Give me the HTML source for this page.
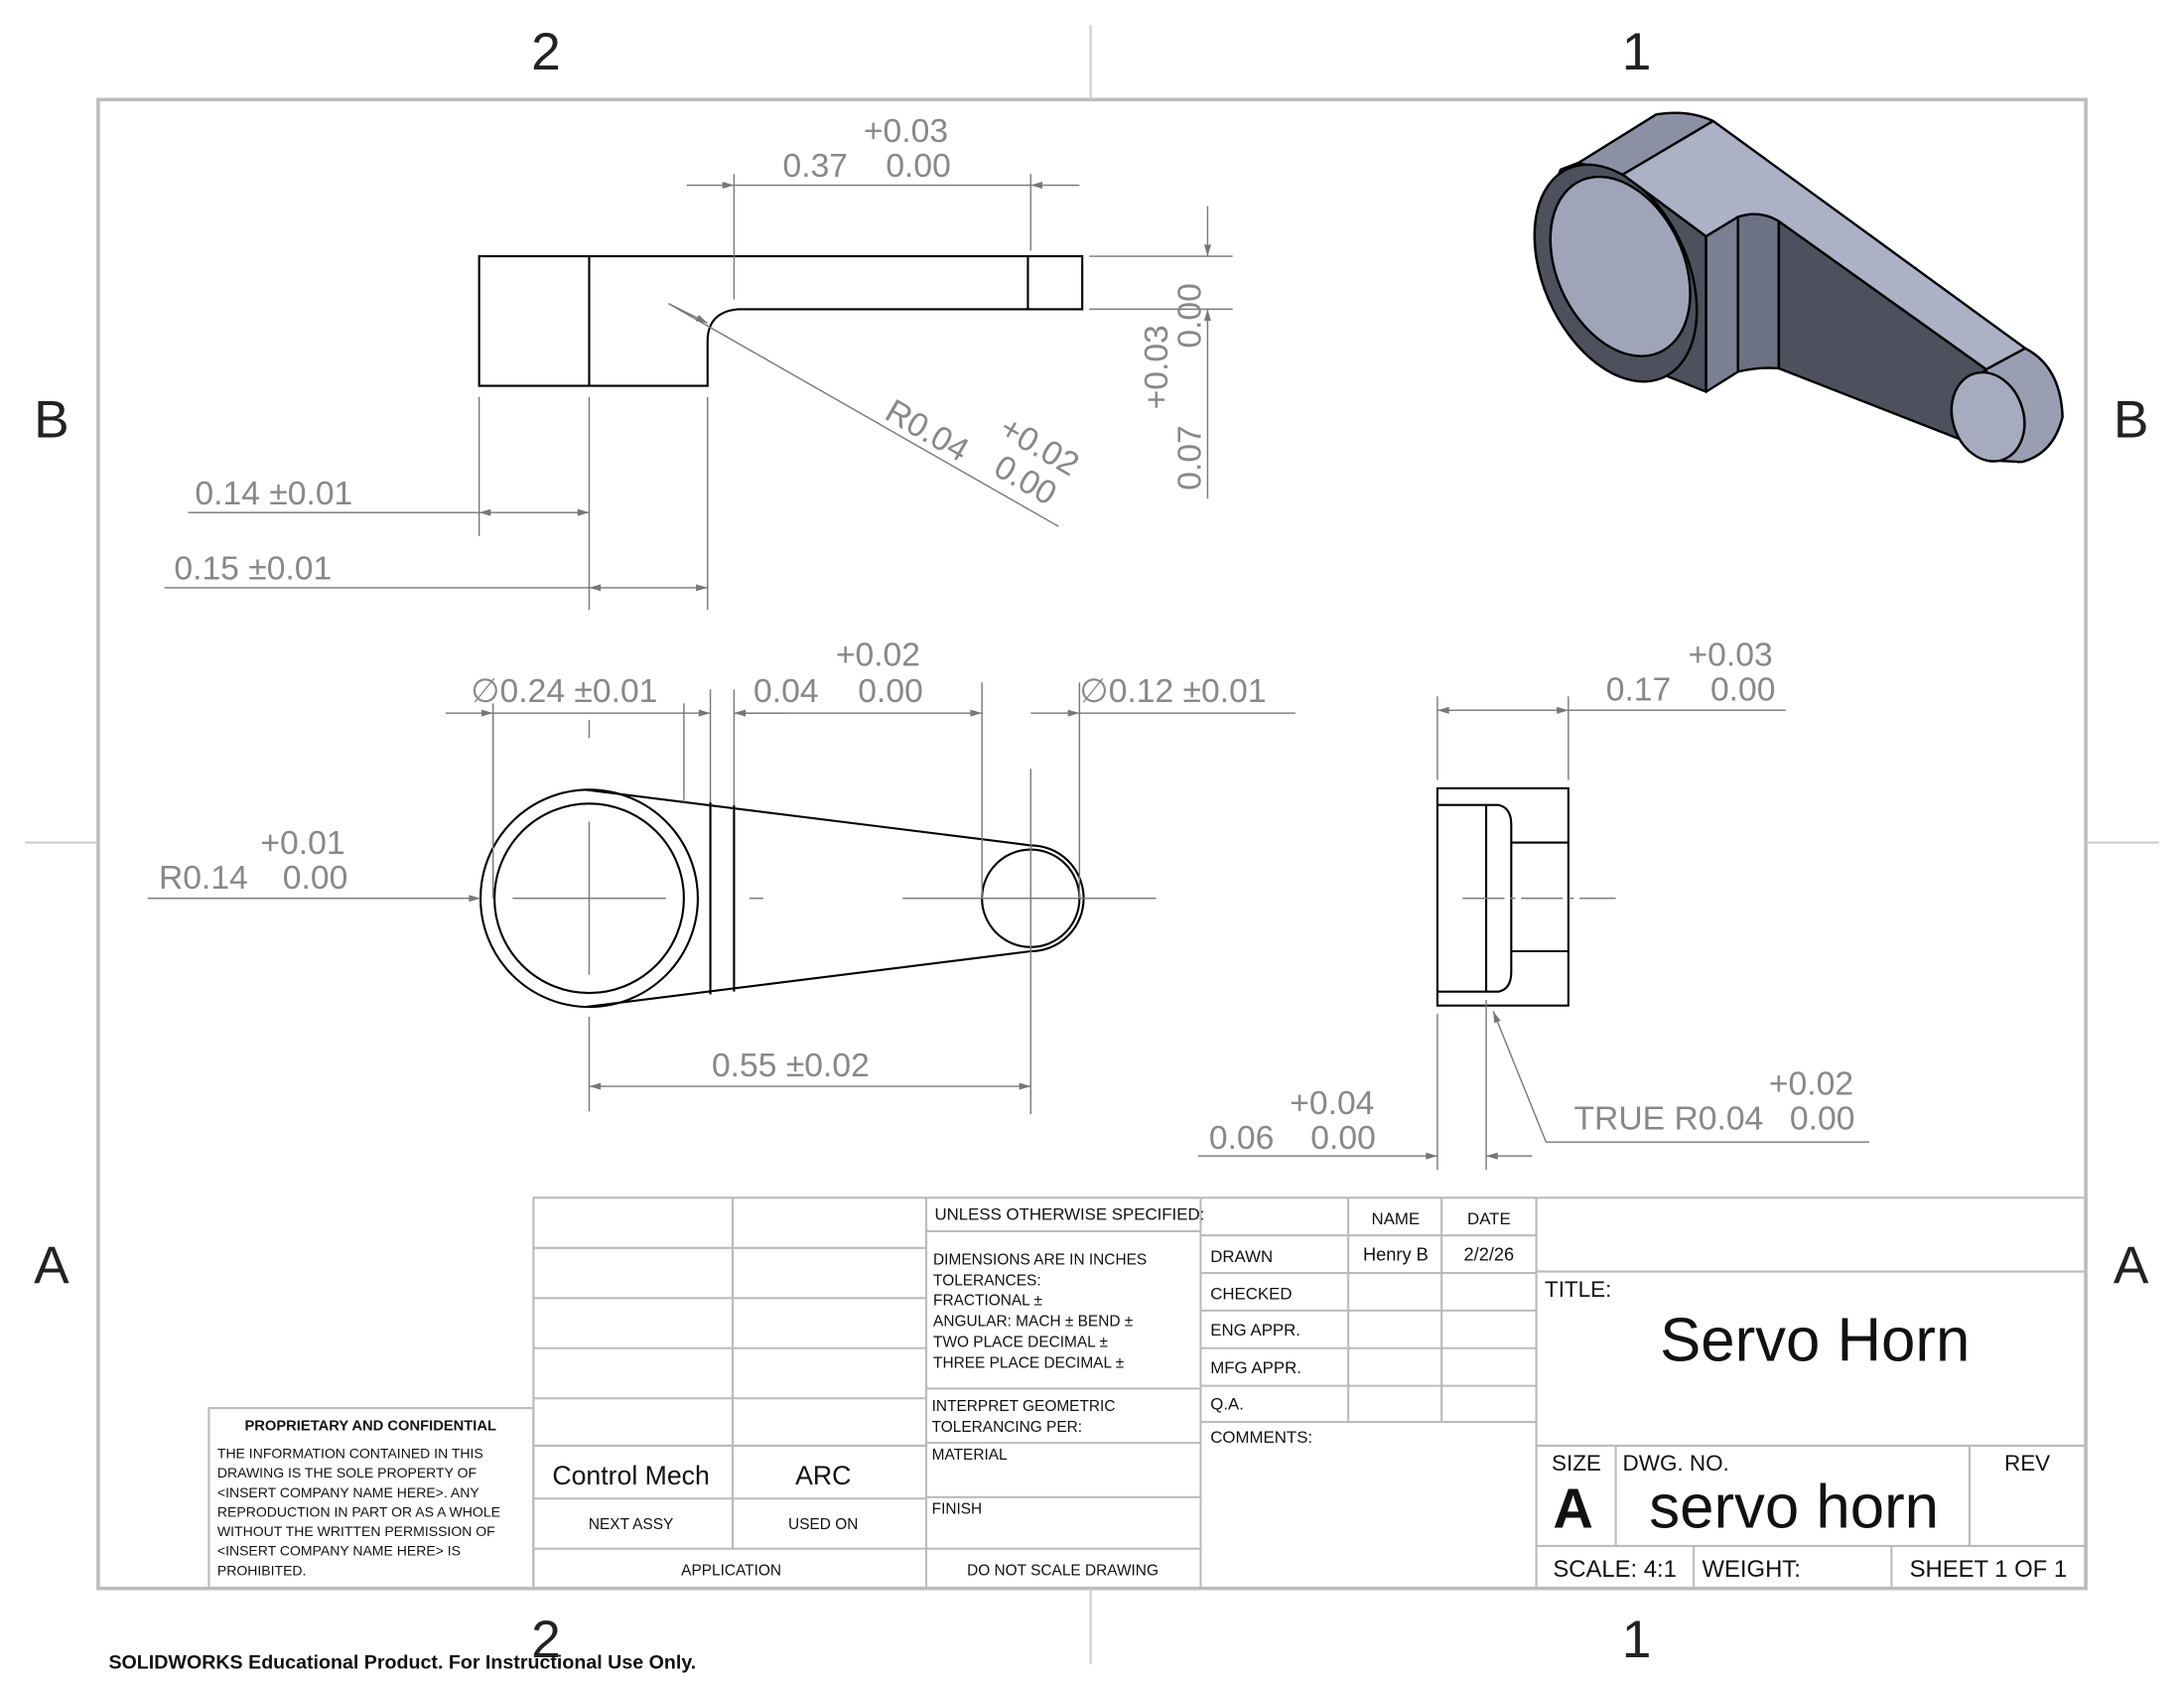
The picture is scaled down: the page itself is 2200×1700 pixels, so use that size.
<!DOCTYPE html>
<html><head><meta charset="utf-8"><style>
html,body{margin:0;padding:0;background:#fff;}
svg{display:block;}
text{font-family:"Liberation Sans",sans-serif;}
</style></head><body>
<svg width="2200" height="1700" viewBox="0 0 1568 1212" preserveAspectRatio="none" xmlns="http://www.w3.org/2000/svg">
<defs>
<marker id="a" viewBox="0 0 10 6" refX="10" refY="3" markerWidth="14" markerHeight="5" orient="auto-start-reverse" markerUnits="userSpaceOnUse"><path d="M0,0 L10,3 L0,6 z" fill="#777"/></marker>
</defs>
<rect x="0" y="0" width="1568" height="1212" fill="#fff"/>
<rect x="70.5" y="71.5" width="1427" height="1069" fill="none" stroke="#bbb" stroke-width="2.5"/>
<g stroke="#ccc" stroke-width="1.5">
<line x1="783" y1="18" x2="783" y2="71"/><line x1="783" y1="1140" x2="783" y2="1195"/>
<line x1="18" y1="605" x2="70" y2="605"/><line x1="1497" y1="605" x2="1550" y2="605"/>
</g>
<g font-size="38" fill="#222" text-anchor="middle">
<text x="392" y="50">2</text><text x="1175" y="50">1</text>
<text x="392" y="1190">2</text><text x="1175" y="1190">1</text>
<text x="37" y="314">B</text><text x="1530" y="314">B</text>
<text x="37" y="921">A</text><text x="1530" y="921">A</text>
</g>
<text x="78" y="1198" font-size="14" font-weight="bold" fill="#111">SOLIDWORKS Educational Product. For Instructional Use Only.</text>

<g fill="none" stroke="#000" stroke-width="1.5">
<path d="M344,184 H777 V222 H530 Q508,224 508,245 V277 H344 Z"/>
<line x1="423" y1="184" x2="423" y2="277"/>
<line x1="738" y1="184" x2="738" y2="222"/>
</g>
<g stroke="#777" stroke-width="1" fill="none">
<line x1="527" y1="215" x2="527" y2="125"/><line x1="740" y1="180" x2="740" y2="125"/>
<line x1="493" y1="133" x2="527" y2="133" marker-end="url(#a)"/><line x1="775" y1="133" x2="740" y2="133" marker-end="url(#a)"/>
<line x1="527" y1="133" x2="740" y2="133"/>
<line x1="782" y1="184" x2="885" y2="184"/><line x1="782" y1="222" x2="885" y2="222"/>
<line x1="867" y1="148" x2="867" y2="184" marker-end="url(#a)"/><line x1="867" y1="358" x2="867" y2="222" marker-end="url(#a)"/>
<line x1="480" y1="218" x2="760" y2="378"/>
<line x1="480" y1="218" x2="508" y2="232" marker-end="url(#a)"/>
<line x1="344" y1="285" x2="344" y2="385"/><line x1="423" y1="285" x2="423" y2="438"/><line x1="508" y1="285" x2="508" y2="438"/>
<line x1="135" y1="368" x2="344" y2="368"/>
<line x1="344" y1="368" x2="423" y2="368" marker-start="url(#a)" marker-end="url(#a)"/>
<line x1="118" y1="422" x2="423" y2="422"/>
<line x1="423" y1="422" x2="508" y2="422" marker-start="url(#a)" marker-end="url(#a)"/>
</g>
<g fill="#888" font-size="24">
<text x="620" y="102">+0.03</text><text x="562" y="127">0.37</text><text x="636" y="127">0.00</text>
<text x="140" y="362">0.14 ±0.01</text><text x="125" y="416">0.15 ±0.01</text>
<text transform="translate(838,294) rotate(-90)">+0.03</text><text transform="translate(862,250) rotate(-90)">0.00</text>
<text transform="translate(862,352) rotate(-90)">0.07</text>
<text transform="translate(634,300) rotate(30)">R0.04</text>
<text transform="translate(716,312) rotate(30)">+0.02</text>
<text transform="translate(712,340) rotate(30)">0.00</text>
</g>

<g fill="none" stroke="#000" stroke-width="1.5">
<circle cx="423" cy="645" r="78"/><circle cx="423" cy="645" r="68"/>
<circle cx="740" cy="645" r="35"/>
<path d="M420,567 L740,607 A38,38 0 0 1 740,683 L420,723"/>
<line x1="510" y1="576" x2="510" y2="714"/><line x1="527" y1="578" x2="527" y2="712"/>
</g>
<g stroke="#777" stroke-width="1" fill="none">
<line x1="423" y1="590" x2="423" y2="700"/><line x1="368" y1="645" x2="478" y2="645"/>
<line x1="423" y1="517" x2="423" y2="530"/><line x1="538" y1="645" x2="548" y2="645"/>
<line x1="648" y1="645" x2="830" y2="645"/><line x1="740" y1="552" x2="740" y2="800"/>
<line x1="106" y1="645" x2="345" y2="645" marker-end="url(#a)"/>
<line x1="354" y1="505" x2="354" y2="645"/><line x1="491" y1="505" x2="491" y2="576"/>
<line x1="320" y1="512" x2="354" y2="512" marker-end="url(#a)"/><line x1="491" y1="512" x2="354" y2="512"/>
<line x1="510" y1="495" x2="510" y2="576"/><line x1="527" y1="495" x2="527" y2="578"/>
<line x1="491" y1="512" x2="510" y2="512" marker-end="url(#a)"/><line x1="565" y1="512" x2="527" y2="512" marker-end="url(#a)"/>
<line x1="527" y1="512" x2="705" y2="512" marker-start="url(#a)" marker-end="url(#a)"/>
<line x1="705" y1="490" x2="705" y2="645"/><line x1="775" y1="490" x2="775" y2="645"/>
<line x1="740" y1="512" x2="775" y2="512" marker-end="url(#a)"/><line x1="930" y1="512" x2="775" y2="512"/>
<line x1="423" y1="730" x2="423" y2="798"/>
<line x1="423" y1="780" x2="740" y2="780" marker-start="url(#a)" marker-end="url(#a)"/>
</g>
<g fill="#888" font-size="24">
<text x="338" y="504">∅0.24 ±0.01</text><text x="600" y="478">+0.02</text><text x="541" y="504">0.04</text><text x="616" y="504">0.00</text>
<text x="775" y="504">∅0.12 ±0.01</text>
<text x="187" y="613">+0.01</text><text x="114" y="638">R0.14</text><text x="203" y="638">0.00</text>
<text x="511" y="773">0.55 ±0.02</text>
</g>

<g fill="none" stroke="#000" stroke-width="1.5">
<rect x="1032" y="566" width="94" height="156"/>
<path d="M1032,578 H1076 Q1085,580 1085,592 V698 Q1085,710 1076,712 H1032"/>
<line x1="1067" y1="578" x2="1067" y2="712"/>
<line x1="1085" y1="605" x2="1126" y2="605"/><line x1="1085" y1="683" x2="1126" y2="683"/>
</g>
<g stroke="#777" stroke-width="1" fill="none">
<line x1="1050" y1="645" x2="1160" y2="645" stroke-dasharray="30,4,4,4"/>
<line x1="1032" y1="500" x2="1032" y2="560"/><line x1="1126" y1="500" x2="1126" y2="560"/>
<line x1="1032" y1="510" x2="1126" y2="510" marker-start="url(#a)" marker-end="url(#a)"/>
<line x1="1126" y1="510" x2="1282" y2="510"/>
<line x1="1032" y1="728" x2="1032" y2="840"/><line x1="1067" y1="718" x2="1067" y2="840"/>
<line x1="860" y1="830" x2="1032" y2="830" marker-end="url(#a)"/><line x1="1100" y1="830" x2="1067" y2="830" marker-end="url(#a)"/>
<line x1="1110" y1="820" x2="1072" y2="726" marker-end="url(#a)"/>
<line x1="1110" y1="820" x2="1342" y2="820"/>
</g>
<g fill="#888" font-size="24">
<text x="1212" y="478">+0.03</text><text x="1153" y="503">0.17</text><text x="1228" y="503">0.00</text>
<text x="926" y="800">+0.04</text><text x="868" y="825">0.06</text><text x="941" y="825">0.00</text>
<text x="1270" y="786">+0.02</text><text x="1130" y="811">TRUE R0.04</text><text x="1285" y="811">0.00</text>
</g>

<g transform="translate(1097.6,71.3) scale(0.2546,0.24)" stroke="#000" stroke-width="7" stroke-linejoin="round">
<path d="M140,190 L360,45 Q450,30 520,65 L265,225 Z" fill="#8c90a4"/>
<path d="M90,210 L140,190 L265,225 L500,410 L500,875 L300,790 L150,700 Q50,560 45,330 Z" fill="#4e505e"/>
<ellipse cx="245" cy="520" rx="205" ry="340" transform="rotate(-22 245 520)" fill="#4e505e"/>
<ellipse cx="258" cy="500" rx="180" ry="280" transform="rotate(-22 258 500)" fill="#a0a4b8"/>
<path d="M265,225 L520,65 L1400,745 L1290,808 L705,365 Q650,330 590,352 L500,410 Z" fill="#adb1c6"/>
<path d="M500,410 L590,352 L590,815 L500,875 Z" fill="#7c8094"/>
<path d="M590,352 Q650,330 705,365 L705,805 Q650,800 590,815 Z" fill="#6d7184"/>
<path d="M705,365 L1290,808 L1230,860 L1380,1085 L705,805 Z" fill="#4e505e"/>
<path d="M1290,808 L1400,745 Q1500,800 1505,950 Q1480,1060 1390,1085 L1300,1080 Z" fill="#9a9eb2"/>
<ellipse cx="1295" cy="950" rx="100" ry="135" transform="rotate(-15 1295 950)" fill="#a7abbf"/>
</g>

<g stroke="#bbb" stroke-width="1.5" fill="none">
<rect x="383" y="860" width="1114" height="280"/>
<rect x="150" y="1011" width="233" height="129"/>
<line x1="526" y1="860" x2="526" y2="1112"/><line x1="665" y1="860" x2="665" y2="1140"/><line x1="862" y1="860" x2="862" y2="1140"/>
<line x1="383" y1="896" x2="665" y2="896"/><line x1="383" y1="932" x2="665" y2="932"/><line x1="383" y1="968" x2="665" y2="968"/>
<line x1="383" y1="1004" x2="665" y2="1004"/><line x1="383" y1="1038" x2="665" y2="1038"/><line x1="383" y1="1076" x2="665" y2="1076"/>
<line x1="383" y1="1112" x2="862" y2="1112"/>
<line x1="665" y1="884" x2="862" y2="884"/><line x1="665" y1="997" x2="862" y2="997"/><line x1="665" y1="1036" x2="862" y2="1036"/><line x1="665" y1="1075" x2="862" y2="1075"/>
<line x1="968" y1="860" x2="968" y2="1021"/><line x1="1035" y1="860" x2="1035" y2="1021"/><line x1="1103" y1="860" x2="1103" y2="1140"/>
<line x1="862" y1="887" x2="1103" y2="887"/><line x1="862" y1="914" x2="1103" y2="914"/><line x1="862" y1="941" x2="1103" y2="941"/>
<line x1="862" y1="968" x2="1103" y2="968"/><line x1="862" y1="995" x2="1103" y2="995"/><line x1="862" y1="1021" x2="1103" y2="1021"/>
<line x1="1103" y1="913" x2="1497" y2="913"/><line x1="1103" y1="1038" x2="1497" y2="1038"/><line x1="1103" y1="1110" x2="1497" y2="1110"/>
<line x1="1160" y1="1038" x2="1160" y2="1110"/><line x1="1414" y1="1038" x2="1414" y2="1110"/>
<line x1="1216" y1="1110" x2="1216" y2="1140"/><line x1="1358" y1="1110" x2="1358" y2="1140"/>
</g>
<g fill="#111" font-size="11">
<text x="266" y="1027" text-anchor="middle" font-weight="bold" font-size="10.5">PROPRIETARY AND CONFIDENTIAL</text>
<text x="156" y="1047" font-size="10">THE INFORMATION CONTAINED IN THIS</text>
<text x="156" y="1061" font-size="10">DRAWING IS THE SOLE PROPERTY OF</text>
<text x="156" y="1075" font-size="10">&lt;INSERT COMPANY NAME HERE&gt;.  ANY</text>
<text x="156" y="1089" font-size="10">REPRODUCTION IN PART OR AS A WHOLE</text>
<text x="156" y="1103" font-size="10">WITHOUT THE WRITTEN PERMISSION OF</text>
<text x="156" y="1117" font-size="10">&lt;INSERT COMPANY NAME HERE&gt; IS</text>
<text x="156" y="1131" font-size="10">PROHIBITED.</text>
<text x="453" y="1066" text-anchor="middle" font-size="19">Control Mech</text>
<text x="591" y="1066" text-anchor="middle" font-size="19">ARC</text>
<text x="453" y="1098" text-anchor="middle">NEXT ASSY</text>
<text x="591" y="1098" text-anchor="middle">USED ON</text>
<text x="525" y="1131" text-anchor="middle">APPLICATION</text>
<text x="763" y="1131" text-anchor="middle">DO NOT SCALE DRAWING</text>
<text x="671" y="876" font-size="12">UNLESS OTHERWISE SPECIFIED:</text>
<text x="670" y="908">DIMENSIONS ARE IN INCHES</text>
<text x="670" y="923">TOLERANCES:</text>
<text x="670" y="937">FRACTIONAL ±</text>
<text x="670" y="952">ANGULAR: MACH ±    BEND ±</text>
<text x="670" y="967">TWO PLACE DECIMAL    ±</text>
<text x="670" y="982">THREE PLACE DECIMAL  ±</text>
<text x="669" y="1013">INTERPRET GEOMETRIC</text>
<text x="669" y="1028">TOLERANCING PER:</text>
<text x="669" y="1048">MATERIAL</text>
<text x="669" y="1087">FINISH</text>
<text x="1002" y="879" text-anchor="middle" font-size="12">NAME</text>
<text x="1069" y="879" text-anchor="middle" font-size="12">DATE</text>
<text x="869" y="906" font-size="12">DRAWN</text>
<text x="1002" y="905" text-anchor="middle" font-size="13">Henry B</text>
<text x="1069" y="905" text-anchor="middle" font-size="13">2/2/26</text>
<text x="869" y="933" font-size="12">CHECKED</text>
<text x="869" y="959" font-size="12">ENG APPR.</text>
<text x="869" y="986" font-size="12">MFG APPR.</text>
<text x="869" y="1012" font-size="12">Q.A.</text>
<text x="869" y="1036" font-size="12">COMMENTS:</text>
<text x="1109" y="931" font-size="16">TITLE:</text>
<text x="1303" y="977" text-anchor="middle" font-size="44">Servo Horn</text>
<text x="1114" y="1056" font-size="16">SIZE</text>
<text x="1165" y="1056" font-size="16">DWG.  NO.</text>
<text x="1439" y="1056" font-size="16">REV</text>
<text x="1115" y="1097" font-size="40" font-weight="bold">A</text>
<text x="1288" y="1097" text-anchor="middle" font-size="44">servo horn</text>
<text x="1115" y="1132" font-size="17">SCALE: 4:1</text>
<text x="1222" y="1132" font-size="17">WEIGHT:</text>
<text x="1371" y="1132" font-size="17">SHEET 1 OF 1</text>
</g>
</svg>
</body></html>
